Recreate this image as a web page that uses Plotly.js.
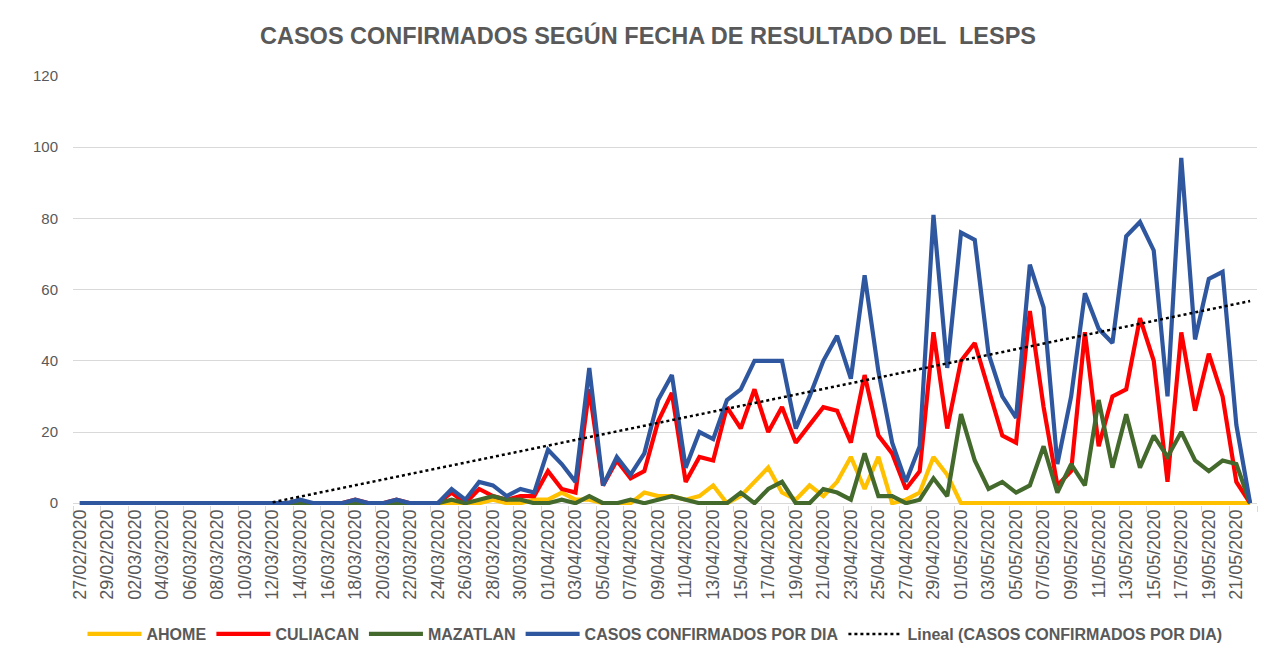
<!DOCTYPE html>
<html>
<head>
<meta charset="utf-8">
<script src="https://cdn.plot.ly/plotly-3.0.1.min.js"></script>
<style>
  html, body { margin: 0; padding: 0; background: #ffffff; }
  #chart { width: 1267px; height: 663px; }
</style>
</head>
<body>
<div id="chart"></div>
<script>
const fechas = [
  "27/02/2020","28/02/2020","29/02/2020",
  "01/03/2020","02/03/2020","03/03/2020","04/03/2020","05/03/2020","06/03/2020","07/03/2020","08/03/2020","09/03/2020","10/03/2020",
  "11/03/2020","12/03/2020","13/03/2020","14/03/2020","15/03/2020","16/03/2020","17/03/2020","18/03/2020","19/03/2020","20/03/2020",
  "21/03/2020","22/03/2020","23/03/2020","24/03/2020","25/03/2020","26/03/2020","27/03/2020","28/03/2020","29/03/2020","30/03/2020","31/03/2020",
  "01/04/2020","02/04/2020","03/04/2020","04/04/2020","05/04/2020","06/04/2020","07/04/2020","08/04/2020","09/04/2020","10/04/2020",
  "11/04/2020","12/04/2020","13/04/2020","14/04/2020","15/04/2020","16/04/2020","17/04/2020","18/04/2020","19/04/2020","20/04/2020",
  "21/04/2020","22/04/2020","23/04/2020","24/04/2020","25/04/2020","26/04/2020","27/04/2020","28/04/2020","29/04/2020","30/04/2020",
  "01/05/2020","02/05/2020","03/05/2020","04/05/2020","05/05/2020","06/05/2020","07/05/2020","08/05/2020","09/05/2020","10/05/2020",
  "11/05/2020","12/05/2020","13/05/2020","14/05/2020","15/05/2020","16/05/2020","17/05/2020","18/05/2020","19/05/2020","20/05/2020",
  "21/05/2020","22/05/2020"
];

// AHOME
const ahome = [
  0,0,0,0,0,0,0,0,0,0,
  0,0,0,0,0,0,0,0,0,0,
  0,0,0,0,0,0,0,0,0,0,
  1,0,0,1,1,3,1,1,0,0,
  0,3,2,2,1,2,5,0,2,6,
  10,3,1,5,2,6,13,4,13,0,
  1,3,13,8,0,0,0,0,0,0,
  0,0,0,0,0,0,0,0,0,0,
  0,0,0,0,0,0
];

// CULIACAN
const culiacan = [
  0,0,0,0,0,0,0,0,0,0,
  0,0,0,0,0,0,0,0,0,0,
  1,0,0,1,0,0,0,3,0,4,
  2,1,2,2,9,4,3,32,5,12,
  7,9,23,31,6,13,12,27,21,32,
  20,27,17,22,27,26,17,36,19,14,
  4,9,48,21,40,45,32,19,17,54,
  27,5,9,48,16,30,32,52,40,6,
  48,26,42,30,6,0
];

// MAZATLAN
const mazatlan = [
  0,0,0,0,0,0,0,0,0,0,
  0,0,0,0,0,0,0,0,0,0,
  0,0,0,0,0,0,0,1,0,1,
  2,1,1,0,0,1,0,2,0,0,
  1,0,1,2,1,0,0,0,3,0,
  4,6,0,0,4,3,1,14,2,2,
  0,1,7,2,25,12,4,6,3,5,
  16,3,11,5,29,10,25,10,19,13,
  20,12,9,12,11,0
];

// CASOS CONFIRMADOS POR DIA
const casosDia = [
  0,0,0,0,0,0,0,0,0,0,
  0,0,0,0,0,0,1,0,0,0,
  1,0,0,1,0,0,0,4,1,6,
  5,2,4,3,15,11,6,38,5,13,
  8,14,29,36,10,20,18,29,32,40,
  40,40,21,30,40,47,35,64,37,17,
  6,16,81,38,76,74,42,30,24,67,
  55,11,30,59,49,45,75,79,71,30,
  97,46,63,65,22,0
];

const nombres = ["AHOME", "CULIACAN", "MAZATLAN", "CASOS CONFIRMADOS POR DIA"];
const tituloTexto = "CASOS CONFIRMADOS SEGÚN FECHA DE RESULTADO DEL \u00a0LESPS";
const yTicks = [0, 20, 40, 60, 80, 100, 120];

// Linear trendline (least squares) of CASOS CONFIRMADOS POR DIA
const n = casosDia.length;
let mx = 0, my = 0;
for (let i = 0; i < n; i++) { mx += i; my += casosDia[i]; }
mx /= n; my /= n;
let sxy = 0, sxx = 0;
for (let i = 0; i < n; i++) { sxy += (i - mx) * (casosDia[i] - my); sxx += (i - mx) * (i - mx); }
const slope = sxy / sxx;
const intercept = my - slope * mx;
const tendencia = casosDia.map((_, i) => {
  const v = intercept + slope * i;
  return v >= 0 ? v : null;
});

const gris = "#595959";
const fontFam = "Liberation Sans, Arial, sans-serif";
const lw = 4.2;

const traces = [
  { x: fechas, y: ahome, name: "<b>" + nombres[0] + "</b>", type: "scatter", mode: "lines",
    line: { color: "#FFC000", width: lw } },
  { x: fechas, y: culiacan, name: "<b>" + nombres[1] + "</b>", type: "scatter", mode: "lines",
    line: { color: "#FF0000", width: lw } },
  { x: fechas, y: mazatlan, name: "<b>" + nombres[2] + "</b>", type: "scatter", mode: "lines",
    line: { color: "#44692C", width: lw } },
  { x: fechas, y: casosDia, name: "<b>" + nombres[3] + "</b>", type: "scatter", mode: "lines",
    line: { color: "#2F579F", width: lw } },
  { x: fechas, y: tendencia, name: "<b>Lineal (" + nombres[3] + ")</b>", type: "scatter", mode: "lines",
    connectgaps: false, line: { color: "#000000", width: 2.5, dash: "dot" } }
];

const layout = {
  width: 1267, height: 663,
  paper_bgcolor: "#ffffff", plot_bgcolor: "#ffffff",
  margin: { l: 73, r: 10, t: 76, b: 158 },
  font: { family: fontFam, color: gris },
  title: {
    text: "<b>" + tituloTexto + "</b>",
    font: { family: fontFam, size: 23.5, color: gris },
    x: (648 - 73) / 1184, xref: "paper", xanchor: "center",
    y: 1 - 36 / 663, yref: "container", yanchor: "middle"
  },
  xaxis: {
    type: "category",
    range: [-0.5, n - 0.5],
    tickmode: "linear", tick0: 0, dtick: 2,
    tickson: "boundaries",
    ticks: "outside", ticklen: 6, tickcolor: "#d9d9d9", tickwidth: 1,
    tickangle: -90,
    tickfont: { family: fontFam, size: 18, color: gris },
    showgrid: false, showline: false, zeroline: false,
    fixedrange: true
  },
  yaxis: {
    range: [-0.5, 120],
    tickmode: "array", tickvals: yTicks, ticktext: yTicks.map(String),
    tickfont: { family: fontFam, size: 15, color: gris },
    ticklabelstandoff: 14,
    showgrid: true, gridcolor: "#d9d9d9", gridwidth: 1,
    zeroline: true, zerolinecolor: "#d9d9d9", zerolinewidth: 1,
    showline: false, ticks: "",
    fixedrange: true
  },
  legend: {
    orientation: "h",
    x: (655 - 73) / 1184, xanchor: "center",
    y: (503 - 632) / 429, yanchor: "middle",
    font: { family: fontFam, size: 16, color: gris },
    itemwidth: 54,
    bgcolor: "rgba(0,0,0,0)"
  },
  showlegend: true
};

Plotly.newPlot("chart", traces, layout, { displayModeBar: false, staticPlot: true });
</script>
</body>
</html>
